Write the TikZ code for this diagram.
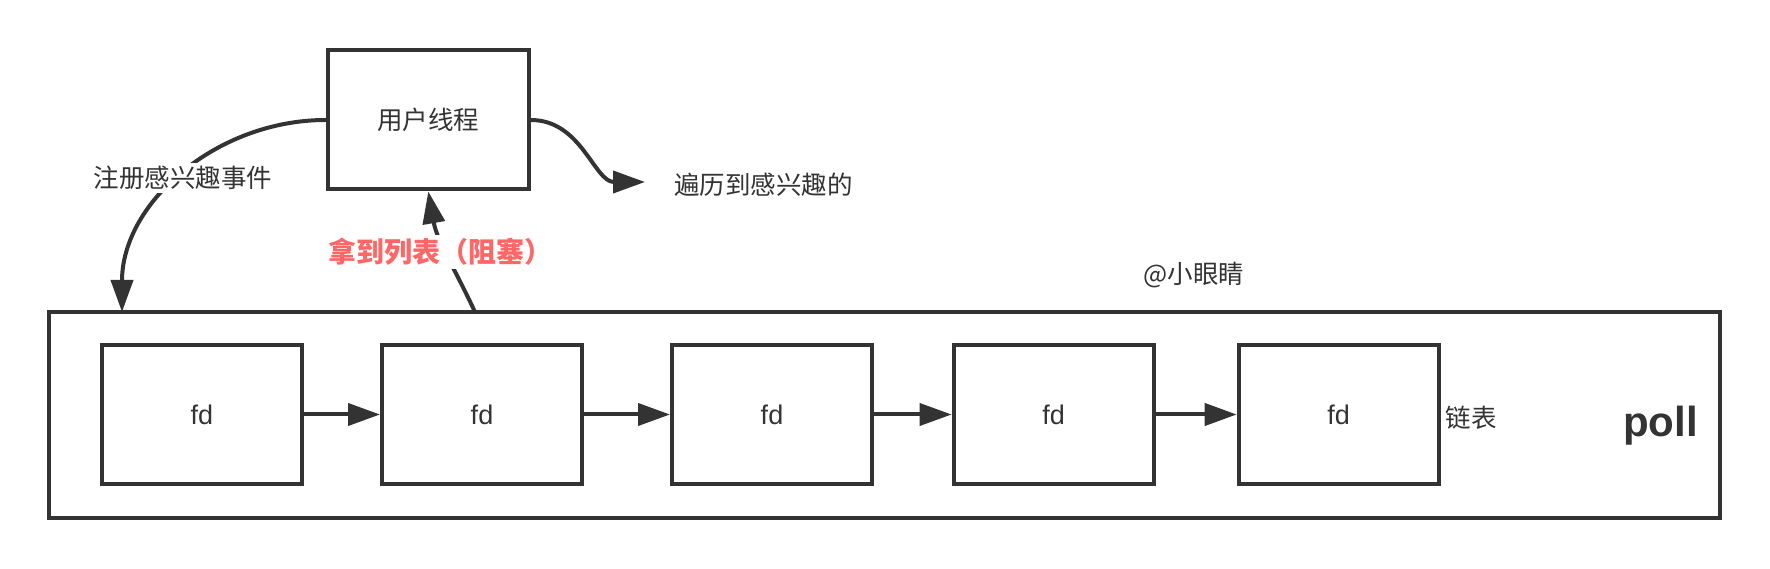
\documentclass[tikz,border=0pt]{standalone}
\usepackage{fontspec}
\setmainfont{Liberation Sans}
\newfontfamily\cjk{Noto Sans CJK SC}
\usetikzlibrary{arrows.meta}
\definecolor{ink}{HTML}{333333}
\definecolor{redlbl}{HTML}{FF6666}
\tikzset{
  fdbox/.style={draw=ink, line width=4pt, minimum width=200pt, minimum height=139pt, inner sep=0pt, text=ink, font=\fontsize{27}{32}\selectfont},
  conn/.style={draw=ink, line width=4pt, -{Triangle[length=32pt,width=22pt]}},
  lbl/.style={text=ink, inner sep=3.5pt, font=\cjk\fontsize{25.5}{30}\selectfont},
}
\begin{document}
\begin{tikzpicture}[x=1pt,y=1pt]
\useasboundingbox (0,0) rectangle (1770,568);
% outer poll box
\node[draw=ink, line width=4pt, minimum width=1670.7pt, minimum height=205.5pt, inner sep=0pt] (outer) at (884.7,153.2) {};
% fd boxes
\node[fdbox] (fd1) at (202,153.5) {fd};
\node[fdbox] (fd2) at (482,153.5) {fd};
\node[fdbox] (fd3) at (772,153.5) {fd};
\node[fdbox] (fd4) at (1053.6,153.5) {fd};
\node[fdbox] (fd5) at (1338.7,153.5) {fd};
\draw[conn] (fd1.east) -- (fd2.west);
\draw[conn] (fd2.east) -- (fd3.west);
\draw[conn] (fd3.east) -- (fd4.west);
\draw[conn] (fd4.east) -- (fd5.west);
\node[lbl] (chain) at (1471,150) {链表};
\node[text=ink, inner sep=0pt, anchor=base west, font=\bfseries\fontsize{42}{50}\selectfont] (poll) at (1623,131.3) {poll};
% user thread
\node[fdbox, minimum width=201pt, font=\cjk\fontsize{25.5}{30}\selectfont] (user) at (428.3,448) {用户线程};
% connectors
\coordinate (regin) at (122,256);
\coordinate (rend) at (645,386);
\coordinate (upstart) at (475,256);
\draw[conn] (user.west) to[out=180,in=90] (regin);
\draw[conn] (user.east) to[out=0,in=180] (rend);
\draw[conn] (upstart) to[out=115,in=-80] (user.south);
% labels
\node[lbl, fill=white] (reg) at (183,390) {注册感兴趣事件};
\node[lbl] (trav) at (763.5,383) {遍历到感兴趣的};
\node[lbl, fill=white, text=redlbl, font=\cjk\bfseries\fontsize{28}{33}\selectfont] (get) at (440,316) {拿到列表（阻塞）};
\node[lbl] (author) at (1194,293) {@小眼睛};
\end{tikzpicture}
\end{document}
